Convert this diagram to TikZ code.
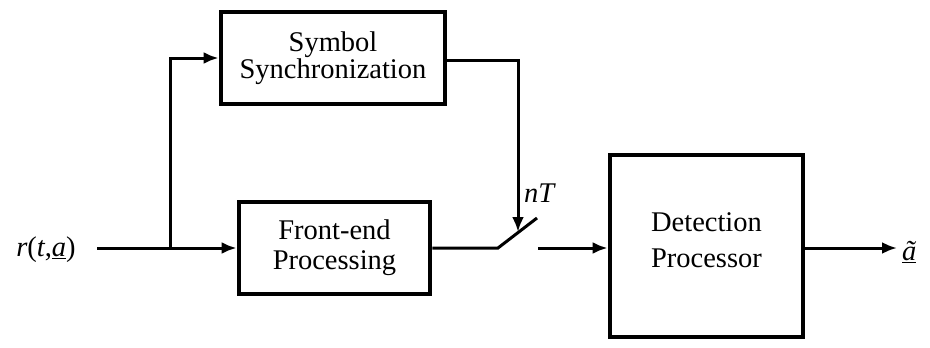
\documentclass[tikz,border=0pt]{standalone}
\usepackage{fontspec}
\setmainfont{Liberation Serif}
\usetikzlibrary{arrows.meta}
\begin{document}
\begin{tikzpicture}[x=1pt,y=-1pt,
  blk/.style={draw,line width=4.8pt,inner sep=0pt,align=center,font=\fontsize{28.5}{27}\selectfont},
  conn/.style={line width=3pt},
  arr/.style={conn,-{Latex[length=15pt,width=12pt]}},
  lbl/.style={inner sep=0pt,font=\fontsize{28.5}{30}\selectfont}]
\useasboundingbox (0,0) rectangle (930,348);
\node[blk,minimum width=224,minimum height=92] (sym) at (333,58) {Symbol\\Synchronization};
\node[blk,minimum width=191,minimum height=92,font=\fontsize{28.5}{30}\selectfont] (fe) at (334.5,248) {Front-end\\Processing};
\node[blk,minimum width=193,minimum height=182,font=\fontsize{28.5}{36}\selectfont] (det) at (706.5,246) {Detection\\Processor\\[-24pt]};
\node[lbl] (rin) at (46,250) {\textit{r}(\textit{t},\underline{\textit{a}})};
\node[lbl,anchor=west] (aout) at (902,252) {\underline{\textit{ã}}};
\node[lbl] (nt) at (540,193) {\textit{nT}};
\coordinate (in) at (97,248);
\coordinate (split) at (170,248);
\coordinate (corner) at (518,60);
\coordinate (tip) at (518,232);
\coordinate (pivot) at (498,248);
\coordinate (blade) at (537,218);
\coordinate (cont) at (538,248);
\coordinate (outend) at (897,248);
\draw[arr] (in) -- (fe.west);
\draw[arr] (split) |- (sym.west);
\draw[arr] (sym.east |- corner) -- (corner) -- (tip);
\draw[conn] (fe.east |- pivot) -- (pivot) -- (blade);
\draw[arr] (cont) -- (det.west |- cont);
\draw[arr] (det.east |- outend) -- (outend);
\end{tikzpicture}
\end{document}
